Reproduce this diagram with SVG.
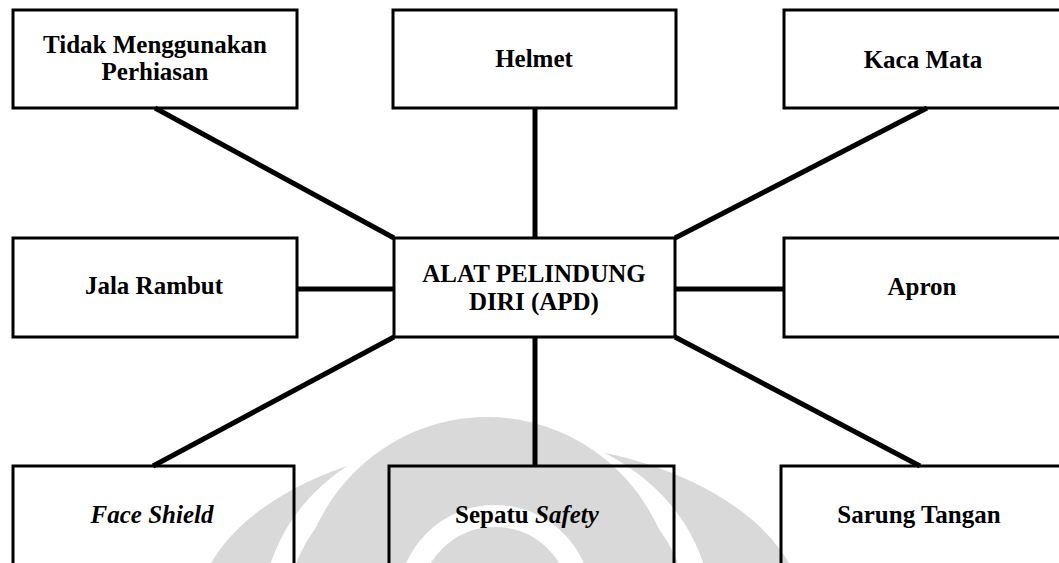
<svg xmlns="http://www.w3.org/2000/svg" width="1059" height="563" viewBox="0 0 1059 563">
  <style>
    .box { fill: none; stroke: #000; stroke-width: 3; }
    .lbl { font-family: "Liberation Serif", "Times New Roman", serif; font-weight: bold; font-size: 25px; fill: #000; text-anchor: middle; }
    .it { font-style: italic; }
    .conn { stroke: #000; stroke-width: 5; fill: none; }
    .wm { fill: #d9d9d9; }
    .wmgap { fill: none; stroke: #fff; }
  </style>
  <rect x="0" y="0" width="1059" height="563" fill="#fff"/>
  <g id="watermark">
    <ellipse class="wm" cx="500" cy="620" rx="305" ry="178"/>
    <ellipse class="wmgap" cx="487" cy="612" rx="212" ry="175" stroke-width="24"/>
    <ellipse class="wm" cx="487" cy="612" rx="190" ry="195"/>
    <circle class="wmgap" cx="495" cy="602" r="86" stroke-width="22"/>
  </g>
  <g id="connectors">
    <line class="conn" x1="155" y1="108" x2="394" y2="238"/>
    <line class="conn" x1="535" y1="108" x2="535" y2="238"/>
    <line class="conn" x1="927" y1="108" x2="675" y2="238"/>
    <line class="conn" x1="297" y1="289" x2="394" y2="289"/>
    <line class="conn" x1="675" y1="289" x2="784" y2="289"/>
    <line class="conn" x1="394" y1="337" x2="153" y2="466"/>
    <line class="conn" x1="535" y1="337" x2="535" y2="466"/>
    <line class="conn" x1="675" y1="337" x2="920" y2="466"/>
  </g>
  <g id="node-center">
    <rect class="box" x="394" y="238" width="281" height="99"/>
    <text class="lbl" x="534" y="282">ALAT PELINDUNG</text>
    <text class="lbl" x="534" y="310">DIRI (APD)</text>
  </g>
  <g id="node-perhiasan">
    <rect class="box" x="13" y="10" width="284" height="98"/>
    <text class="lbl" x="155" y="53">Tidak Menggunakan</text>
    <text class="lbl" x="155" y="80">Perhiasan</text>
  </g>
  <g id="node-helmet">
    <rect class="box" x="393" y="10" width="283" height="98"/>
    <text class="lbl" x="534" y="67">Helmet</text>
  </g>
  <g id="node-kacamata">
    <rect class="box" x="784" y="10" width="290" height="98"/>
    <text class="lbl" x="923" y="68">Kaca Mata</text>
  </g>
  <g id="node-jala">
    <rect class="box" x="13" y="238" width="284" height="99"/>
    <text class="lbl" x="154" y="294">Jala Rambut</text>
  </g>
  <g id="node-apron">
    <rect class="box" x="784" y="238" width="290" height="99"/>
    <text class="lbl" x="922" y="295">Apron</text>
  </g>
  <g id="node-faceshield">
    <rect class="box" x="13" y="466" width="281" height="120"/>
    <text class="lbl it" x="152" y="523">Face Shield</text>
  </g>
  <g id="node-sepatu">
    <rect class="box" x="389" y="466" width="285" height="120"/>
    <text class="lbl" x="527" y="523">Sepatu <tspan class="it">Safety</tspan></text>
  </g>
  <g id="node-sarung">
    <rect class="box" x="781" y="466" width="290" height="120"/>
    <text class="lbl" x="919" y="523">Sarung Tangan</text>
  </g>
</svg>
